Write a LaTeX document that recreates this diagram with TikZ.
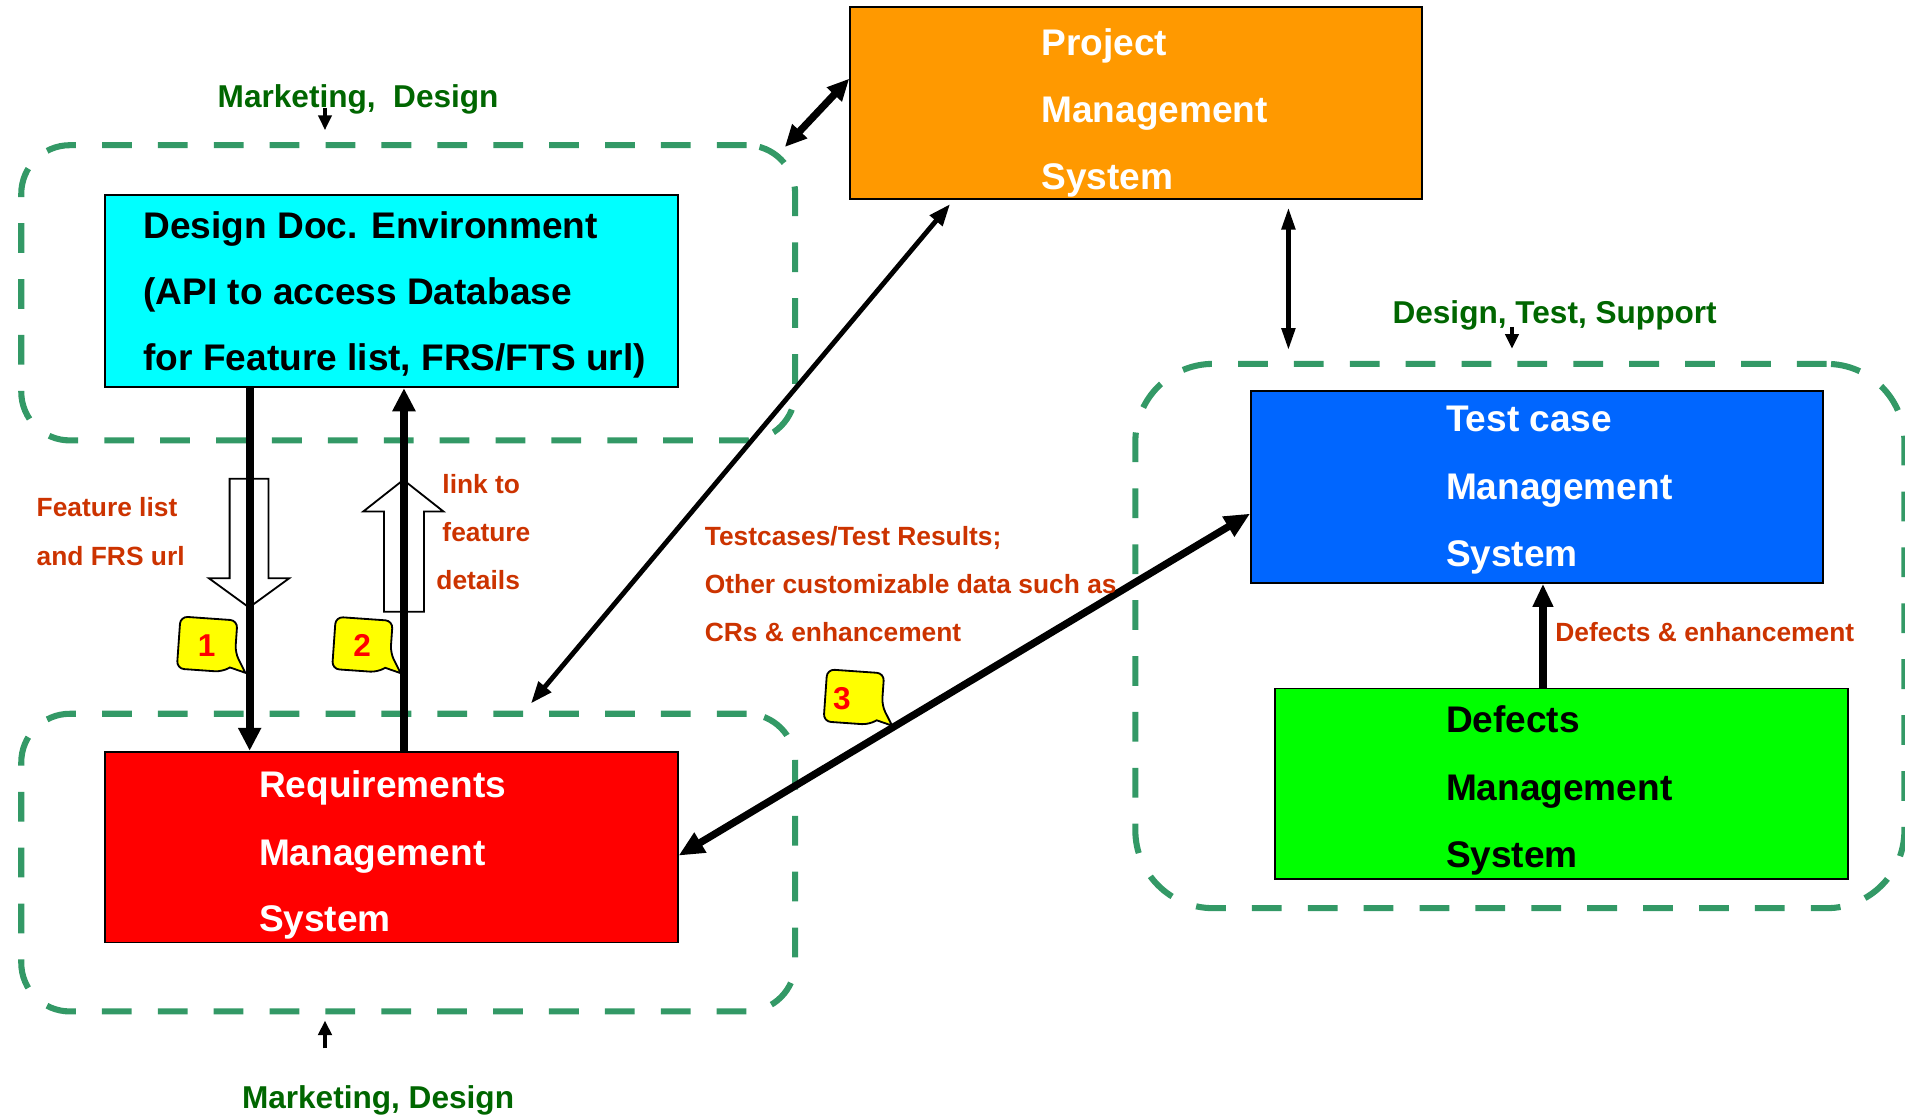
\documentclass[tikz,border=0pt]{standalone}
\usepackage{fontspec}
\setmainfont{Liberation Sans}
\usetikzlibrary{arrows.meta,calc}

\definecolor{dashgreen}{RGB}{51,153,102}
\definecolor{labelred}{RGB}{204,51,0}
\definecolor{labelgreen}{RGB}{0,102,0}
\definecolor{ddecyan}{RGB}{0,255,255}
\definecolor{pmsorange}{RGB}{255,153,0}
\definecolor{tcblue}{RGB}{0,102,255}
\definecolor{dmsgreen}{RGB}{0,255,0}
\definecolor{rmsred}{RGB}{255,0,0}
\definecolor{calloutyellow}{RGB}{255,255,0}

\tikzset{
  callout/.pic={
    \draw[bubble] (0,-21.5) -- (23.5,-21.5) -- (23.5,5) [sharp corners] -- (33,21)
      -- (20,17.5) [rounded corners=6pt] -- (14,21.5) -- (-23.5,21.5) -- (-23.5,-21.5) -- cycle;
  }
}

\begin{document}
\begin{tikzpicture}[x=1pt,y=-1pt,
  sysbox/.style={draw=black, line width=1.5pt, inner sep=0pt, anchor=north west,
                 minimum width=471pt, minimum height=158pt},
  groupframe/.style={draw=dashgreen, line width=5pt, dash pattern=on 24.5pt off 21.5pt,
                     inner sep=0pt, anchor=north west},
  boxtext/.style={anchor=base west, inner sep=0pt, font=\fontsize{30.5}{36}\selectfont\bfseries},
  flowlabel/.style={anchor=base west, inner sep=0pt, text=labelred,
                    font=\fontsize{21.7}{26}\selectfont\bfseries},
  rolelabel/.style={anchor=base west, inner sep=0pt, text=labelgreen,
                    font=\fontsize{26}{30}\selectfont\bfseries},
  hollow/.style={draw=black, line width=1.5pt, fill=white, line join=miter},
  bubble/.style={draw=black, line width=1.5pt, fill=calloutyellow, rounded corners=6pt},
  bubblenum/.style={inner sep=0pt, text=rmsred, font=\fontsize{26}{30}\selectfont\bfseries},
  heavy/.style={line width=6.5pt, -{Triangle[length=19pt,width=18pt]}},
  feed/.style={line width=2.5pt, -{Triangle[length=12pt,width=11pt]}}
]
\useasboundingbox (0,0) rectangle (1568,919);

% dashed group frames
\node[groupframe, rounded corners=40pt, minimum width=637pt, minimum height=243pt] (grpdesign) at (15,117) {};
\node[groupframe, rounded corners=40pt, minimum width=637pt, minimum height=245pt] (grpreq) at (15,585) {};
\node[groupframe, rounded corners=64pt, minimum width=633pt, minimum height=448pt] (grptest) at (932,297) {};

% system boxes
\node[sysbox, fill=ddecyan] (dde) at (86,160) {};
\node[sysbox, fill=pmsorange] (pms) at (699,5) {};
\node[sysbox, fill=tcblue] (tcms) at (1029,321) {};
\node[sysbox, fill=dmsgreen, minimum height=157pt] (dms) at (1049,566) {};
\node[sysbox, fill=rmsred, minimum height=157pt] (rms) at (86,618) {};

% box captions
\node[boxtext] (ddeA) at (118,196) {Design Doc. Environment};
\node[boxtext] (ddeB) at (118,250.5) {(API to access Database};
\node[boxtext] (ddeC) at (118,305) {for Feature list, FRS/FTS url)};

\node[boxtext, text=white] (pmsA) at (857,45.5) {Project};
\node[boxtext, text=white] (pmsB) at (857,101) {Management};
\node[boxtext, text=white] (pmsC) at (857,156) {System};

\node[boxtext, text=white] (tcmsA) at (1190,355) {Test case};
\node[boxtext, text=white] (tcmsB) at (1190,411) {Management};
\node[boxtext, text=white] (tcmsC) at (1190,466) {System};

\node[boxtext] (dmsA) at (1190,603) {Defects};
\node[boxtext] (dmsB) at (1190,659) {Management};
\node[boxtext] (dmsC) at (1190,714) {System};

\node[boxtext, text=white] (rmsA) at (213,656) {Requirements};
\node[boxtext, text=white] (rmsB) at (213,712) {Management};
\node[boxtext, text=white] (rmsC) at (213,767) {System};

% hollow block arrows behind the feature links
\draw[hollow] (189,394) -- (221,394) -- (221,476) -- (238,476) -- (205,500) -- (172,476) -- (189,476) -- cycle;
\draw[hollow] (332,395) -- (365,421) -- (349,421) -- (349,503.5) -- (316,503.5) -- (316,421) -- (299,421) -- cycle;

% feature list / link flows
\coordinate (feedx) at (205.5,0);
\coordinate (linkx) at (332.5,0);
\draw[heavy] (dde.south -| feedx) -- (rms.north -| feedx);
\draw[heavy] (rms.north -| linkx) -- (dde.south -| linkx);

% project management links
\coordinate (designcorner) at (646,121);
\draw[line width=6pt, {Triangle[length=18pt,width=16pt]}-{Triangle[length=18pt,width=16pt]}]
  (designcorner) -- ($(pms.west)+(0,-20)$);
\coordinate (pmsfoot) at (782,168);
\coordinate (reqtop) at (437,579);
\draw[line width=4pt, {Triangle[length=18pt,width=13pt]}-{Triangle[length=18pt,width=13pt]}]
  (pmsfoot) -- (reqtop);
\coordinate (pmsdown) at (1060.5,171);
\coordinate (testtop) at (1060.5,288);
\draw[line width=3.5pt, {Triangle[length=18pt,width=11pt]}-{Triangle[length=18pt,width=11pt]}]
  (pmsdown) -- (testtop);

% test case exchange
\draw[line width=6pt, {Triangle[length=21pt,width=18pt]}-{Triangle[length=21pt,width=18pt]}]
  ($(rms.east)+(0,7)$) -- ($(tcms.west)+(0,22)$);

% defects to test cases
\coordinate (defx) at (1270,0);
\draw[line width=6pt, -{Triangle[length=19pt,width=16pt]}] (dms.north -| defx) -- (tcms.south -| defx);

% flow labels
\node[flowlabel] (flA) at (30,425.5) {Feature list};
\node[flowlabel] (flB) at (30,465.5) {and FRS url};
\node[flowlabel] (lkA) at (364,406.5) {link to};
\node[flowlabel] (lkB) at (364,446) {feature};
\node[flowlabel] (lkC) at (359,485) {details};
\node[flowlabel] (tcA) at (580,449) {Testcases/Test Results;};
\node[flowlabel] (tcB) at (580,488.5) {Other customizable data such as};
\node[flowlabel] (tcC) at (580,528) {CRs \& enhancement};
\node[flowlabel] (deA) at (1280,528) {Defects \& enhancement};

% role labels with their feeds
\node[rolelabel] (mktTop) at (179,88.5) {Marketing,\ \ Design};
\node[rolelabel] (mktBot) at (199,912) {Marketing, Design};
\node[rolelabel] (dts) at (1146,266) {Design, Test, Support};
\coordinate (mktTopA) at (267.5,89);
\coordinate (mktTopB) at (267.5,107);
\draw[feed] (mktTopA) -- (mktTopB);
\coordinate (mktBotA) at (267.5,863);
\coordinate (mktBotB) at (267.5,840);
\draw[feed, line width=3pt] (mktBotA) -- (mktBotB);
\coordinate (dtsA) at (1244.5,269);
\coordinate (dtsB) at (1244.5,287);
\draw[feed] (dtsA) -- (dtsB);

% numbered callouts
\pic[rotate=-4] at (170.5,530.5) {callout};
\pic[rotate=-4] at (298.3,530.8) {callout};
\pic[rotate=-4] at (702.8,574) {callout};
\node[bubblenum] (numA) at (170,531) {1};
\node[bubblenum] (numB) at (298,531) {2};
\node[bubblenum] (numC) at (693,575) {3};
\end{tikzpicture}
\end{document}
